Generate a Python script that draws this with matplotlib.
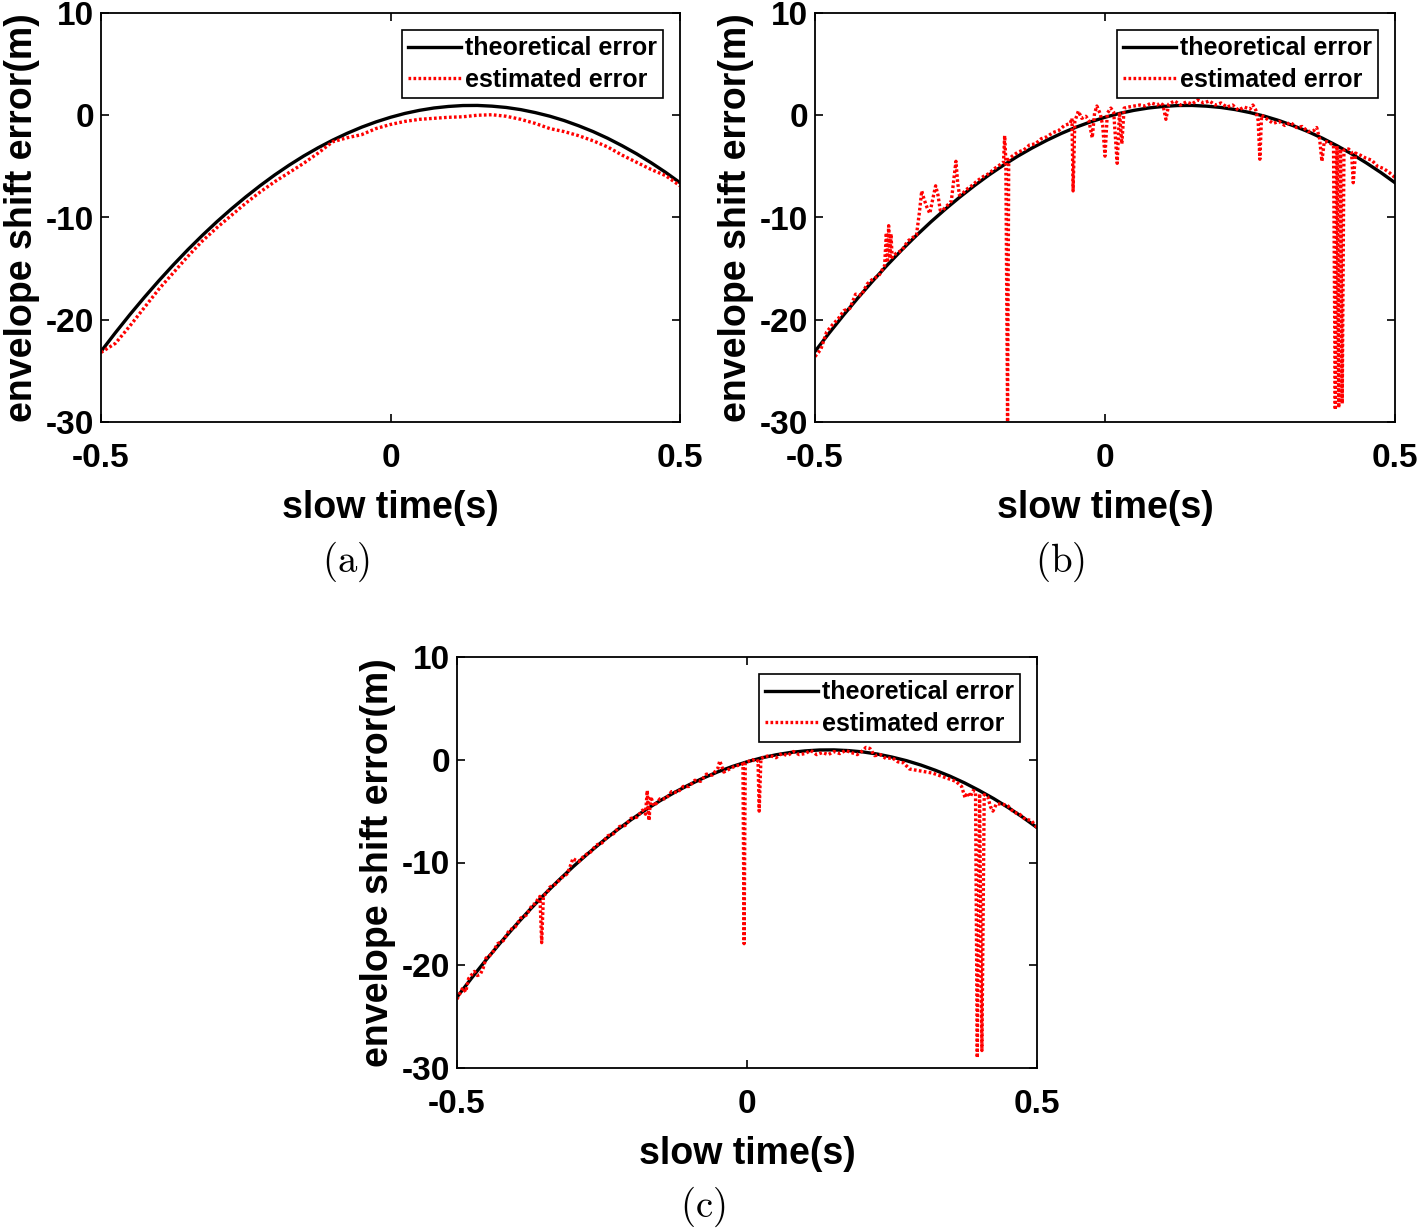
import matplotlib
matplotlib.use('Agg')
import matplotlib.pyplot as plt

plt.rcParams['font.family'] = ['Liberation Sans', 'DejaVu Sans']
plt.rcParams['font.weight'] = 'bold'
plt.rcParams['axes.unicode_minus'] = False
plt.rcParams['mathtext.fontset'] = 'cm'

# ---------------- data ----------------
t_theory = [-0.500, -0.475, -0.450, -0.425, -0.400, -0.375, -0.350, -0.325, -0.300, -0.275,
            -0.250, -0.225, -0.200, -0.175, -0.150, -0.125, -0.100, -0.075, -0.050, -0.025,
            0.000, 0.025, 0.050, 0.075, 0.100, 0.125, 0.150, 0.175, 0.200, 0.225,
            0.250, 0.275, 0.300, 0.325, 0.350, 0.375, 0.400, 0.425, 0.450, 0.475, 0.500]
theory = [-23.10, -21.26, -19.49, -17.80, -16.18, -14.63, -13.15, -11.75, -10.42, -9.17,
          -7.99, -6.88, -5.84, -4.88, -3.99, -3.18, -2.44, -1.77, -1.17, -0.65,
          -0.20, 0.18, 0.48, 0.71, 0.86, 0.95, 0.96, 0.89, 0.76, 0.55,
          0.26, -0.09, -0.52, -1.03, -1.60, -2.25, -2.98, -3.77, -4.64, -5.58, -6.60]

# panel (a) estimated error
t_est_a = [-0.500, -0.475, -0.450, -0.425, -0.400, -0.375, -0.350, -0.325, -0.300, -0.275,
           -0.250, -0.225, -0.200, -0.175, -0.150, -0.125, -0.100, -0.075, -0.050, -0.025,
           0.000, 0.025, 0.050, 0.075, 0.100, 0.125, 0.150, 0.175, 0.200, 0.225,
           0.250, 0.275, 0.300, 0.325, 0.350, 0.375, 0.400, 0.425, 0.450, 0.475, 0.500]
est_a = [-23.2, -22.3, -20.6, -18.8, -17.0, -15.4, -13.8, -12.3, -11.0, -9.8,
         -8.6, -7.5, -6.5, -5.6, -4.7, -3.7, -2.6, -2.2, -1.9, -1.3,
         -0.9, -0.6, -0.4, -0.3, -0.2, -0.15, 0.0, 0.05, -0.1, -0.4,
         -0.8, -1.3, -1.6, -2.0, -2.5, -3.1, -3.9, -4.6, -5.3, -5.9, -6.9]

# panel (b) estimated error
t_est_b = [-0.500, -0.490, -0.480, -0.470, -0.460, -0.450, -0.440, -0.430, -0.420, -0.410,
           -0.400, -0.390, -0.380, -0.377, -0.375, -0.373, -0.371, -0.369, -0.367, -0.360,
           -0.350, -0.340, -0.330, -0.325, -0.320, -0.316, -0.312, -0.307, -0.302, -0.297,
           -0.292, -0.288, -0.284, -0.280, -0.270, -0.265, -0.260, -0.257, -0.254, -0.251,
           -0.246, -0.240, -0.230, -0.220, -0.210, -0.200, -0.190, -0.180, -0.175, -0.173,
           -0.171, -0.168, -0.166, -0.160, -0.150, -0.140, -0.130, -0.120, -0.110, -0.100,
           -0.090, -0.080, -0.070, -0.060, -0.057, -0.055, -0.052, -0.046, -0.040, -0.033,
           -0.028, -0.022, -0.018, -0.014, -0.008, -0.004, 0.000, 0.004, 0.010, 0.015,
           0.021, 0.025, 0.029, 0.033, 0.040, 0.050, 0.060, 0.070, 0.080, 0.090,
           0.095, 0.100, 0.105, 0.110, 0.120, 0.130, 0.140, 0.150, 0.160, 0.170,
           0.180, 0.190, 0.200, 0.210, 0.220, 0.230, 0.240, 0.250, 0.255, 0.260,
           0.264, 0.267, 0.270, 0.280, 0.290, 0.300, 0.310, 0.320, 0.330, 0.340,
           0.350, 0.360, 0.365, 0.370, 0.374, 0.378, 0.383, 0.390, 0.394, 0.397,
           0.400, 0.403, 0.406, 0.409, 0.412, 0.420, 0.425, 0.428, 0.432, 0.440,
           0.450, 0.460, 0.470, 0.480, 0.490, 0.500]
est_b = [-23.6, -22.9, -21.2, -20.5, -19.9, -19.1, -18.9, -17.5, -17.6, -16.5,
         -16.0, -15.7, -14.7, -11.5, -14.4, -10.8, -14.0, -11.6, -13.9, -13.5,
         -13.2, -12.3, -11.9, -11.7, -9.5, -7.4, -8.2, -9.0, -9.6, -8.2,
         -6.9, -7.8, -9.3, -9.3, -8.7, -8.4, -6.0, -4.5, -6.6, -7.8,
         -7.7, -7.3, -6.9, -6.4, -6.0, -5.7, -5.2, -4.8, -4.6, -2.0,
         -4.4, -30.0, -4.3, -4.0, -3.6, -3.4, -2.9, -2.8, -2.3, -2.1,
         -1.7, -1.5, -1.0, -0.8, -0.3, -7.4, -0.6, 0.4, -0.3, -0.1,
         -0.5, -2.2, 0.2, 0.9, 0.1, -1.0, -4.0, 0.2, 0.7, 0.3,
         -4.7, 0.3, -2.8, 0.7, 0.8, 0.9, 1.0, 0.9, 1.2, 1.0,
         1.2, 1.0, -0.4, 1.1, 1.4, 1.0, 1.3, 1.1, 1.5, 1.2,
         1.4, 1.0, 1.2, 0.8, 1.0, 0.5, 0.8, 0.6, 1.0, 0.5,
         -0.5, -4.3, 0.0, -0.4, -0.8, -0.6, -1.0, -0.7, -1.2, -1.1,
         -1.6, -1.5, -1.2, -2.3, -4.5, -2.6, -2.6, -2.8, -2.9, -28.8,
         -3.0, -28.6, -3.3, -28.2, -3.4, -3.3, -3.6, -6.6, -3.7, -3.9,
         -4.2, -4.4, -5.0, -5.2, -5.6, -6.1]

# panel (c) estimated error
t_est_c = [-0.500, -0.490, -0.485, -0.480, -0.470, -0.465, -0.460, -0.455, -0.450, -0.440,
           -0.430, -0.420, -0.410, -0.400, -0.390, -0.380, -0.370, -0.365, -0.360, -0.357,
           -0.354, -0.351, -0.345, -0.340, -0.330, -0.320, -0.310, -0.305, -0.300, -0.295,
           -0.290, -0.280, -0.270, -0.260, -0.250, -0.240, -0.230, -0.220, -0.210, -0.200,
           -0.190, -0.180, -0.175, -0.172, -0.169, -0.166, -0.160, -0.150, -0.140, -0.130,
           -0.120, -0.110, -0.100, -0.090, -0.080, -0.070, -0.060, -0.050, -0.047, -0.040,
           -0.030, -0.020, -0.010, -0.007, -0.005, -0.003, 0.005, 0.010, 0.015, 0.019,
           0.021, 0.024, 0.030, 0.040, 0.050, 0.060, 0.070, 0.080, 0.090, 0.100,
           0.110, 0.120, 0.130, 0.140, 0.150, 0.160, 0.170, 0.180, 0.190, 0.200,
           0.205, 0.212, 0.220, 0.230, 0.240, 0.250, 0.260, 0.270, 0.280, 0.290,
           0.300, 0.310, 0.320, 0.330, 0.340, 0.350, 0.360, 0.370, 0.376, 0.380,
           0.385, 0.390, 0.394, 0.397, 0.401, 0.405, 0.409, 0.415, 0.420, 0.424,
           0.430, 0.440, 0.450, 0.460, 0.470, 0.480, 0.490, 0.500]
est_c = [-23.3, -22.2, -22.6, -21.3, -20.6, -21.0, -20.9, -20.3, -19.3, -18.9,
         -17.9, -17.6, -16.6, -16.3, -15.4, -15.1, -14.1, -14.0, -13.5, -13.3,
         -17.8, -13.2, -13.0, -12.4, -12.1, -11.5, -11.1, -10.4, -9.6, -9.8,
         -9.9, -9.3, -9.0, -8.3, -8.1, -7.4, -7.2, -6.5, -6.4, -5.7,
         -5.6, -4.9, -5.3, -3.0, -5.9, -3.6, -4.5, -3.8, -3.8, -3.1,
         -3.2, -2.6, -2.6, -2.0, -2.1, -1.4, -1.5, -0.8, -0.1, -1.2,
         -0.9, -0.6, -0.5, -0.4, -17.9, -0.3, -0.1, 0.0, -0.2, -0.1,
         -5.0, 0.1, 0.3, 0.4, 0.2, 0.6, 0.4, 0.8, 0.5, 0.6,
         0.9, 0.5, 0.7, 0.5, 0.8, 0.6, 0.9, 0.7, 0.5, 0.9,
         1.2, 1.1, 0.4, 0.5, 0.1, 0.2, -0.2, -0.3, -0.9, -1.0,
         -1.1, -1.2, -1.3, -1.5, -1.7, -1.9, -2.1, -2.6, -3.7, -3.2,
         -3.6, -3.0, -3.1, -29.0, -3.3, -28.3, -3.4, -3.6, -4.6, -5.0,
         -4.3, -4.3, -4.5, -5.1, -5.3, -5.8, -5.9, -6.6]

x_ticks = [-0.5, 0, 0.5]
x_tick_labels = ['-0.5', '0', '0.5']
y_ticks = [-30, -20, -10, 0, 10]
y_tick_labels = ['-30', '-20', '-10', '0', '10']
legend_labels = ['theoretical error', 'estimated error']
captions = ['(a)', '(b)', '(c)']

# ---------------- layout ----------------
W, H = 1418, 1230
fig = plt.figure(figsize=(W / 100, H / 100), dpi=100)


def px_axes(x0, y_top, x1, y_bot):
    return fig.add_axes([x0 / W, 1 - y_bot / H, (x1 - x0) / W, (y_bot - y_top) / H])


ax_a = px_axes(101, 13, 680, 422)
ax_b = px_axes(815, 13, 1395, 422)
ax_c = px_axes(457, 657, 1037, 1068)


def draw(ax, t_est, est):
    ax.plot(t_theory, theory, color='black', lw=2.4, label=legend_labels[0],
            solid_joinstyle='round')
    ax.plot(t_est, est, color='#ff0000', lw=2.4, ls=(0, (0.8, 0.7)),
            label=legend_labels[1])
    ax.set_xlim(-0.5, 0.5)
    ax.set_ylim(-30, 10)
    ax.set_xticks(x_ticks)
    ax.set_xticklabels(x_tick_labels)
    ax.set_yticks(y_ticks)
    ax.set_yticklabels(y_tick_labels)
    ax.tick_params(direction='in', length=6, width=1.2, top=True, right=True,
                   labelsize=24)
    ax.tick_params(axis='x', pad=15)
    ax.tick_params(axis='y', pad=5)
    for s in ax.spines.values():
        s.set_linewidth(1.3)
    ax.set_xlabel('slow time(s)', fontsize=27, fontweight='bold', labelpad=12)
    ax.set_ylabel('envelope shift error(m)', fontsize=27, fontweight='bold', labelpad=4)
    leg = ax.legend(loc='upper right', bbox_to_anchor=(0.9706, 0.9584),
                    borderaxespad=0, fontsize=18, frameon=True, fancybox=False,
                    edgecolor='black', framealpha=1, handlelength=2.1,
                    handletextpad=0.15, borderpad=0.25, labelspacing=0.3)
    leg.get_frame().set_linewidth(1.2)


draw(ax_a, t_est_a, est_a)
draw(ax_b, t_est_b, est_b)
draw(ax_c, t_est_c, est_c)

cap_pos = [(346, 562), (1060, 562), (703, 1207)]
for cap, (cx, cy) in zip(captions, cap_pos):
    fig.text(cx / W, 1 - cy / H, r'$\mathrm{' + cap + '}$', fontsize=28,
             ha='center', va='center')

fig.savefig('out.png', dpi=100)
